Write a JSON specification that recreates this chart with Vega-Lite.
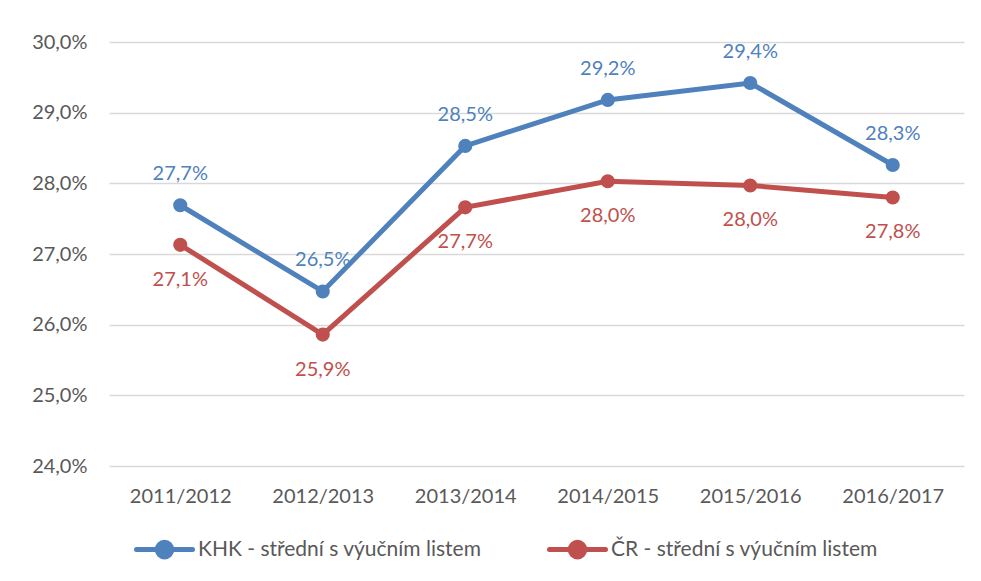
{
  "$schema": "https://vega.github.io/schema/vega-lite/v6.json",
  "width": 855,
  "height": 424,
  "autosize": "none",
  "padding": {"left": 109, "top": 42, "right": 17, "bottom": 115},
  "background": "white",
  "config": {
    "locale": {"number": {"decimal": ",", "thousands": " ", "grouping": [3], "currency": ["", " Kč"]}},
    "view": {"stroke": null},
    "font": "Lato"
  },
  "data": {
    "values": [
      {"rok": "2011/2012", "serie": "KHK - střední s výučním listem", "podil": 0.2769},
      {"rok": "2012/2013", "serie": "KHK - střední s výučním listem", "podil": 0.2647},
      {"rok": "2013/2014", "serie": "KHK - střední s výučním listem", "podil": 0.2853},
      {"rok": "2014/2015", "serie": "KHK - střední s výučním listem", "podil": 0.2918},
      {"rok": "2015/2016", "serie": "KHK - střední s výučním listem", "podil": 0.2942},
      {"rok": "2016/2017", "serie": "KHK - střední s výučním listem", "podil": 0.2826},
      {"rok": "2011/2012", "serie": "ČR - střední s výučním listem", "podil": 0.2713},
      {"rok": "2012/2013", "serie": "ČR - střední s výučním listem", "podil": 0.2586},
      {"rok": "2013/2014", "serie": "ČR - střední s výučním listem", "podil": 0.2766},
      {"rok": "2014/2015", "serie": "ČR - střední s výučním listem", "podil": 0.2803},
      {"rok": "2015/2016", "serie": "ČR - střední s výučním listem", "podil": 0.2797},
      {"rok": "2016/2017", "serie": "ČR - střední s výučním listem", "podil": 0.2780}
    ]
  },
  "encoding": {
    "x": {
      "field": "rok", "type": "ordinal",
      "scale": {"type": "point", "padding": 0.5},
      "axis": {"title": null, "labelAngle": 0, "domain": false, "ticks": false, "labelPadding": 20, "labelFontSize": 20, "labelColor": "#595959", "labelFont": "Lato", "grid": false}
    },
    "y": {
      "field": "podil", "type": "quantitative",
      "scale": {"domain": [0.24, 0.30], "nice": false, "zero": false},
      "axis": {"title": null, "values": [0.24, 0.25, 0.26, 0.27, 0.28, 0.29, 0.30], "format": ".1%", "domain": false, "ticks": false, "labelPadding": 22, "labelFontSize": 20, "labelColor": "#595959", "labelFont": "Lato", "gridColor": "#d9d9d9", "gridWidth": 1.3}
    },
    "color": {
      "field": "serie", "type": "nominal",
      "scale": {"domain": ["KHK - střední s výučním listem", "ČR - střední s výučním listem"], "range": ["#4F81BD", "#C0504D"]},
      "legend": {
        "title": null, "orient": "none", "direction": "horizontal", "legendX": 25, "legendY": 477,
        "symbolType": "M-1,0L1,0M-0.26,0A0.26,0.26,0,1,1,0.26,0A0.26,0.26,0,1,1,-0.26,0Z",
        "symbolSize": 3136, "symbolStrokeWidth": 5,
        "labelFontSize": 21, "labelColor": "#595959", "labelFont": "Lato", "labelOffset": 3, "columnPadding": 57, "labelLimit": 500,
        "encode": {"symbols": {"update": {"fill": {"scale": "color", "field": "value"}, "stroke": {"scale": "color", "field": "value"}, "strokeCap": {"value": "round"}}}}
      }
    }
  },
  "layer": [
    {"mark": {"type": "line", "strokeWidth": 5, "strokeCap": "round"}, "encoding": {"detail": {"field": "serie"}}},
    {"mark": {"type": "point", "filled": true, "size": 200, "opacity": 1}},
    {
      "transform": [{"filter": "datum.serie === 'KHK - střední s výučním listem'"}],
      "mark": {"type": "text", "dy": -31, "baseline": "middle", "fontSize": 20, "font": "Lato"},
      "encoding": {"text": {"field": "podil", "type": "quantitative", "format": ".1%"}}
    },
    {
      "transform": [{"filter": "datum.serie === 'ČR - střední s výučním listem'"}],
      "mark": {"type": "text", "dy": 35, "baseline": "middle", "fontSize": 20, "font": "Lato"},
      "encoding": {"text": {"field": "podil", "type": "quantitative", "format": ".1%"}}
    }
  ]
}
